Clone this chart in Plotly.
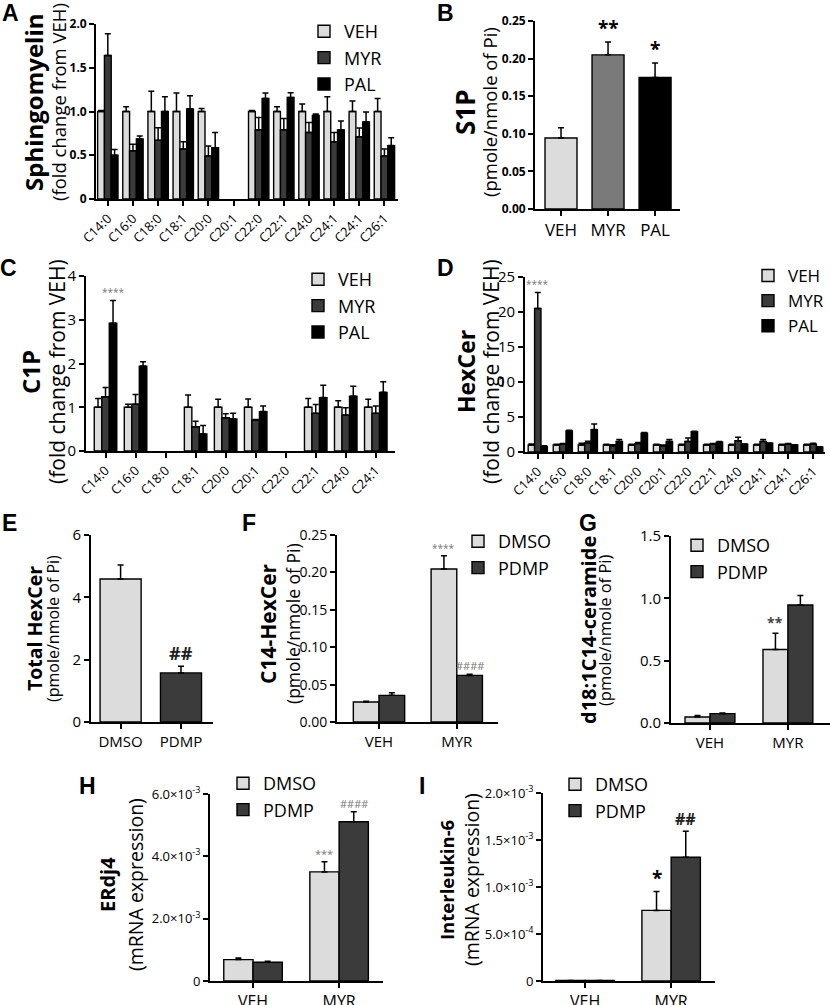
import plotly.graph_objects as go

W, H = 830, 1005
FONT = "Open Sans"

# ---------------- data ----------------
cats_A = ["C14:0", "C16:0", "C18:0", "C18:1", "C20:0", "C20:1", "C22:0", "C22:1", "C24:0", "C24:1", "C24:1", "C26:1"]
veh_A = [1.0, 1.0, 1.0, 1.0, 1.0, None, 1.0, 1.0, 1.0, 1.0, 1.0, 1.0]
veh_A_err = [0.01, 0.055, 0.23, 0.21, 0.035, None, 0.01, 0.055, 0.085, 0.17, 0.12, 0.15]
myr_A = [1.64, 0.55, 0.67, 0.57, 0.49, None, 0.79, 0.79, 0.76, 0.655, 0.71, 0.49]
myr_A_err = [0.25, 0.075, 0.145, 0.085, 0.115, None, 0.14, 0.13, 0.115, 0.105, 0.10, 0.08]
pal_A = [0.50, 0.685, 1.0, 1.03, 0.585, None, 1.15, 1.16, 0.955, 0.79, 0.88, 0.61]
pal_A_err = [0.065, 0.035, 0.17, 0.15, 0.175, None, 0.06, 0.055, 0.015, 0.10, 0.115, 0.09]

cats_B = ["VEH", "MYR", "PAL"]
vals_B = [0.0945, 0.205, 0.175]
errs_B = [0.0135, 0.017, 0.019]

cats_C = ["C14:0", "C16:0", "C18:0", "C18:1", "C20:0", "C20:1", "C22:0", "C22:1", "C24:0", "C24:1"]
veh_C = [1.0, 1.0, None, 1.0, 1.0, 1.0, None, 1.0, 1.0, 1.0]
veh_C_err = [0.2, 0.07, None, 0.28, 0.18, 0.19, None, 0.2, 0.15, 0.18]
myr_C = [1.24, 1.07, None, 0.555, 0.76, 0.71, None, 0.86, 0.82, 0.86]
myr_C_err = [0.21, 0.22, None, 0.125, 0.09, 0.01, None, 0.2, 0.17, 0.17]
pal_C = [2.92, 1.94, None, 0.39, 0.73, 0.90, None, 1.22, 1.25, 1.34]
pal_C_err = [0.52, 0.1, None, 0.19, 0.13, 0.13, None, 0.28, 0.23, 0.24]

cats_D = ["C14:0", "C16:0", "C18:0", "C18:1", "C20:0", "C20:1", "C22:0", "C22:1", "C24:0", "C24:1", "C24:1", "C26:1"]
veh_D = [1.0, 1.0, 1.0, 1.0, 1.0, 1.0, 1.0, 1.0, 1.0, 1.0, 1.0, 1.0]
veh_D_err = [0.15, 0.1, 0.25, 0.1, 0.1, 0.1, 0.1, 0.1, 0.1, 0.1, 0.1, 0.1]
myr_D = [20.5, 1.1, 1.3, 0.9, 1.2, 0.9, 1.5, 1.1, 1.6, 1.5, 1.1, 1.1]
myr_D_err = [2.3, 0.1, 0.25, 0.15, 0.15, 0.1, 0.5, 0.1, 0.5, 0.3, 0.1, 0.15]
pal_D = [0.8, 3.0, 3.2, 1.5, 2.7, 1.5, 2.9, 1.4, 1.1, 1.25, 1.0, 0.7]
pal_D_err = [0.1, 0.1, 0.8, 0.3, 0.1, 0.3, 0.05, 0.1, 0.05, 0.05, 0.05, 0.05]

cats_E = ["DMSO", "PDMP"]
vals_E = [4.59, 1.575]
errs_E = [0.45, 0.215]

cats_FG = ["VEH", "MYR"]
dmso_F = [0.0267, 0.2046]
dmso_F_err = [0.001, 0.0175]
pdmp_F = [0.0356, 0.0623]
pdmp_F_err = [0.0035, 0.0017]

dmso_G = [0.048, 0.59]
dmso_G_err = [0.012, 0.13]
pdmp_G = [0.075, 0.947]
pdmp_G_err = [0.006, 0.075]

dmso_H = [0.686e-3, 3.50e-3]
dmso_H_err = [0.055e-3, 0.33e-3]
pdmp_H = [0.600e-3, 5.11e-3]
pdmp_H_err = [0.03e-3, 0.32e-3]

dmso_I = [0.006e-3, 0.751e-3]
dmso_I_err = [0.0, 0.20e-3]
pdmp_I = [0.006e-3, 1.317e-3]
pdmp_I_err = [0.0, 0.275e-3]

# ---------------- style ----------------
C_LIGHT = "#dcdcdc"
C_DARK = "#3b3b3b"
C_MID = "#7a7a7a"
C_BLACK = "#000000"


def dx(p0, p1):
    return [p0 / W, p1 / W]


def dy(pb, pt):
    return [1 - pb / H, 1 - pt / H]


fig = go.Figure()
annotations = []


def add_bar(ax, y, err, color, name, offset, width, legend=None, showlegend=False):
    n = len(y)
    fig.add_trace(go.Bar(
        x=list(range(n)), y=y, width=width, offset=offset, name=name,
        marker=dict(color=color, line=dict(color="black", width=1.4)),
        error_y=dict(type="data", array=err, arrayminus=[0] * n, symmetric=False,
                     color="black", thickness=1.5, width=3),
        xaxis="x" + ax, yaxis="y" + ax,
        legend=legend if legend else "legend", showlegend=showlegend,
    ))


def grouped(ax, series, width, legend):
    k = len(series)
    start = -width * k / 2
    for i, (name, y, err, color) in enumerate(series):
        add_bar(ax, y, err, color, name, start + i * width, width, legend, True)
    return start


def rot_text(xc, yc, text, size, bold):
    annotations.append(dict(
        x=xc / W, y=1 - yc / H, xref="paper", yref="paper", showarrow=False,
        textangle=-90, xanchor="center", yanchor="middle",
        text=f"<b>{text}</b>" if bold else text,
        font=dict(family=FONT, color="black", size=size),
    ))


def ytitle(xb, xs, yc, bold, sub, bsize, ssize):
    rot_text(xb, yc, bold, bsize, True)
    rot_text(xs, yc, sub, ssize, False)


def letter(x, y, t):
    annotations.append(dict(
        x=x / W, y=1 - y / H, xref="paper", yref="paper", showarrow=False,
        xanchor="left", yanchor="middle", text=f"<b>{t}</b>",
        font=dict(family="Liberation Sans", size=23, color="black"),
    ))


def sig(ax, x, y, t, size, color, bold=False):
    annotations.append(dict(
        x=x, y=y, xref="x" + ax, yref="y" + ax, showarrow=False,
        xanchor="center", yanchor="bottom", yshift=-1,
        text=f"<b>{t}</b>" if bold else t,
        font=dict(family=FONT, size=size, color=color),
    ))


axis_common = dict(showline=True, linecolor="black", linewidth=1.8, ticks="outside",
                   ticklen=5, tickwidth=1.5, tickcolor="black", showgrid=False,
                   zeroline=False, fixedrange=True, automargin=False)

layout_axes = {}


def set_axes(ax, xdom, ydom, xrange, yrange, xticktext, ytickvals, yticktext,
             xfont=14, yfont=14, xangle=0, ybold=False):
    xname = "xaxis" if ax == "" else "xaxis" + ax
    yname = "yaxis" if ax == "" else "yaxis" + ax
    layout_axes[xname] = dict(axis_common, domain=xdom, range=xrange, anchor="y" + ax,
                              tickvals=list(range(len(xticktext))), ticktext=xticktext,
                              tickangle=xangle, tickfont=dict(family=FONT, size=xfont, color="black"))
    yt = [f"<b>{t}</b>" for t in yticktext] if ybold else yticktext
    layout_axes[yname] = dict(axis_common, domain=ydom, range=yrange, anchor="x" + ax,
                              tickvals=ytickvals, ticktext=yt,
                              tickfont=dict(family=FONT, size=yfont, color="black"))


# ---------------- Panel A ----------------
bwA = 0.27
grouped("", [("VEH", veh_A, veh_A_err, C_LIGHT), ("MYR", myr_A, myr_A_err, C_DARK),
             ("PAL", pal_A, pal_A_err, C_BLACK)], bwA, "legend")
set_axes("", dx(96, 398), dy(199, 24), [-0.47, 11.54], [0, 2.0], cats_A,
         [0, 0.5, 1.0, 1.5, 2.0], ["0", "0.5", "1.0", "1.5", "2.0"],
         xfont=13, yfont=12, xangle=-45, ybold=True)
ytitle(34, 59, 102, "Sphingomyelin", "(fold change from VEH)", 24, 18.5)
letter(0, 13, "A")

# ---------------- Panel B ----------------
for i, (c, col) in enumerate(zip(cats_B, [C_LIGHT, C_MID, C_BLACK])):
    yv = [None] * len(cats_B)
    ev = [0] * len(cats_B)
    yv[i] = vals_B[i]
    ev[i] = errs_B[i]
    add_bar("2", yv, ev, col, c, -0.34, 0.68)
set_axes("2", dx(535, 680), dy(209, 21), [-0.553, 2.53], [0, 0.25], cats_B,
         [0, 0.05, 0.10, 0.15, 0.20, 0.25], ["0.00", "0.05", "0.10", "0.15", "0.20", "0.25"],
         xfont=17, yfont=12, ybold=True)
sig("2", 1, vals_B[1] + errs_B[1], "**", 19, "black", True)
sig("2", 2, vals_B[2] + errs_B[2], "*", 19, "black", True)
ytitle(465, 489, 112, "S1P", "(pmole/nmole of Pi)", 26, 18.5)
letter(435, 13, "B")

# ---------------- Panel C ----------------
bwC = 0.25
sC = grouped("3", [("VEH", veh_C, veh_C_err, C_LIGHT), ("MYR", myr_C, myr_C_err, C_DARK),
                   ("PAL", pal_C, pal_C_err, C_BLACK)], bwC, "legend2")
set_axes("3", dx(86, 395), dy(451, 276), [-0.65, 9.64], [0, 4], cats_C,
         [0, 1, 2, 3, 4], ["0", "1", "2", "3", "4"], xfont=13, yfont=15, xangle=-45)
sig("3", 0 + sC + 2.5 * bwC, pal_C[0] + pal_C_err[0], "****", 10, "#777777")
ytitle(30, 57, 372, "C1P", "(fold change from VEH)", 24, 21)
letter(-2, 268, "C")

# ---------------- Panel D ----------------
bwD = 0.255
sD = grouped("4", [("VEH", veh_D, veh_D_err, C_LIGHT), ("MYR", myr_D, myr_D_err, C_DARK),
                   ("PAL", pal_D, pal_D_err, C_BLACK)], bwD, "legend3")
set_axes("4", dx(525, 825), dy(452, 277), [-0.51, 11.47], [0, 25], cats_D,
         [0, 5, 10, 15, 20, 25], ["0", "5", "10", "15", "20", "25"], xfont=13, yfont=15, xangle=-45)
sig("4", 0 + sD + 1.5 * bwD, myr_D[0] + myr_D_err[0], "****", 10, "#777777")
ytitle(466, 491, 372, "HexCer", "(fold change from VEH)", 23, 21)
letter(435, 268, "D")

# ---------------- Panel E ----------------
for i, (c, col) in enumerate(zip(cats_E, [C_LIGHT, C_DARK])):
    yv = [None] * len(cats_E)
    ev = [0] * len(cats_E)
    yv[i] = vals_E[i]
    ev[i] = errs_E[i]
    add_bar("5", yv, ev, col, c, -0.34, 0.68)
set_axes("5", dx(91, 213), dy(722, 535), [-0.49, 1.53], [0, 6], cats_E,
         [0, 2, 4, 6], ["0", "2", "4", "6"], xfont=15, yfont=15)
sig("5", 1, vals_E[1] + errs_E[1], "##", 18, "#222222", True)
ytitle(34, 53, 629, "Total HexCer", "(pmole/nmole of Pi)", 19.5, 16)
letter(0, 523, "E")

# ---------------- Panel F ----------------
bwF = 0.33
sF = grouped("6", [("DMSO", dmso_F, dmso_F_err, C_LIGHT), ("PDMP", pdmp_F, pdmp_F_err, C_DARK)],
             bwF, "legend4")
set_axes("6", dx(337, 498), dy(722, 535), [-0.54, 1.53], [0, 0.25], cats_FG,
         [0, 0.05, 0.10, 0.15, 0.20, 0.25], ["0.00", "0.05", "0.10", "0.15", "0.20", "0.25"],
         xfont=15, yfont=14)
sig("6", 1 + sF + 0.5 * bwF, dmso_F[1] + dmso_F_err[1], "****", 10, "#777777")
sig("6", 1 + sF + 1.5 * bwF, pdmp_F[1] + pdmp_F_err[1], "####", 11, "#777777")
ytitle(268, 293, 624, "C14-HexCer", "(pmole/nmole of Pi)", 21, 17.5)
letter(240, 523, "F")

# ---------------- Panel G ----------------
bwG = 0.32
sG = grouped("7", [("DMSO", dmso_G, dmso_G_err, C_LIGHT), ("PDMP", pdmp_G, pdmp_G_err, C_DARK)],
             bwG, "legend5")
set_axes("7", dx(671, 830), dy(723, 536), [-0.5, 1.54], [0, 1.5], cats_FG,
         [0, 0.5, 1.0, 1.5], ["0.0", "0.5", "1.0", "1.5"], xfont=15, yfont=15)
sig("7", 1 + sG + 0.5 * bwG, dmso_G[1] + dmso_G_err[1], "**", 14, "#444444", True)
ytitle(588, 604, 630, "d18:1C14-ceramide", "(pmole/nmole of Pi)", 20, 16.5)
letter(577, 523, "G")

# ---------------- Panel H ----------------
bwH = 0.34
sH = grouped("8", [("DMSO", dmso_H, dmso_H_err, C_LIGHT), ("PDMP", pdmp_H, pdmp_H_err, C_DARK)],
             bwH, "legend6")
set_axes("8", dx(210, 383), dy(981, 794), [-0.5, 1.51], [0, 6e-3], cats_FG,
         [0, 2e-3, 4e-3, 6e-3], ["0", "2.0×10<sup>-3</sup>", "4.0×10<sup>-3</sup>", "6.0×10<sup>-3</sup>"],
         xfont=16, yfont=13)
sig("8", 1 + sH + 0.5 * bwH, dmso_H[1] + dmso_H_err[1], "***", 11, "#777777")
sig("8", 1 + sH + 1.5 * bwH, pdmp_H[1] + pdmp_H_err[1], "####", 11, "#777777")
ytitle(107, 135, 885, "ERdj4", "(mRNA expression)", 20, 19.5)
letter(77, 786, "H")

# ---------------- Panel I ----------------
bwI = 0.34
sI = grouped("9", [("DMSO", dmso_I, dmso_I_err, C_LIGHT), ("PDMP", pdmp_I, pdmp_I_err, C_DARK)],
             bwI, "legend7")
set_axes("9", dx(543, 715), dy(981, 793), [-0.49, 1.51], [0, 2e-3], cats_FG,
         [0, 0.5e-3, 1.0e-3, 1.5e-3, 2.0e-3],
         ["0", "5.0×10<sup>-4</sup>", "1.0×10<sup>-3</sup>", "1.5×10<sup>-3</sup>", "2.0×10<sup>-3</sup>"],
         xfont=16, yfont=13)
sig("9", 1 + sI + 0.5 * bwI, dmso_I[1] + dmso_I_err[1], "*", 19, "black", True)
sig("9", 1 + sI + 1.5 * bwI, pdmp_I[1] + pdmp_I_err[1], "##", 16, "#222222", True)
ytitle(446, 471, 880, "Interleukin-6", "(mRNA expression)", 18.5, 19.5)
letter(417, 786, "I")


def legend_at(px, py, size=18):
    return dict(x=px / W, y=1 - py / H, xanchor="left", yanchor="top",
                bgcolor="rgba(0,0,0,0)", font=dict(family=FONT, size=size, color="black"),
                tracegroupgap=0, itemclick=False, itemdoubleclick=False)


fig.update_layout(
    width=W, height=H, margin=dict(l=0, r=0, t=0, b=0, autoexpand=False),
    paper_bgcolor="white", plot_bgcolor="white",
    barmode="overlay", showlegend=True,
    legend=legend_at(304, 13),
    legend2=legend_at(298, 261),
    legend3=legend_at(748, 258, 17),
    legend4=legend_at(458, 523),
    legend5=legend_at(677, 527),
    legend6=legend_at(223, 765),
    legend7=legend_at(555, 766),
    annotations=annotations,
    **layout_axes,
)

fig.write_html("out.html", config={"displayModeBar": False},
               post_script="document.body.style.margin='0px';")
